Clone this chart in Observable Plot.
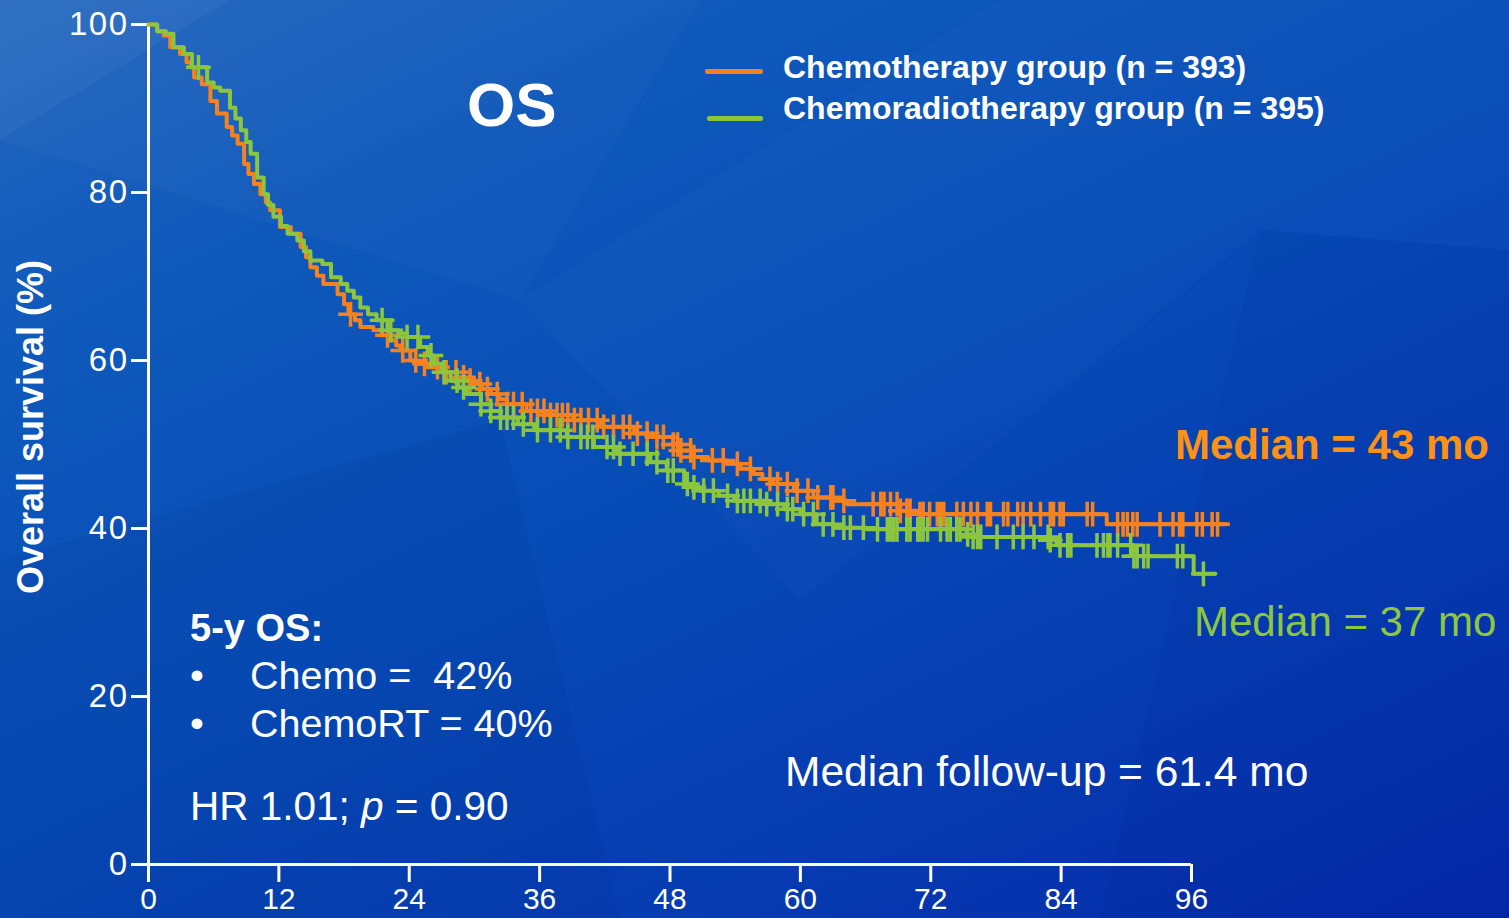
<!DOCTYPE html>
<html><head><meta charset="utf-8">
<script src="https://cdn.jsdelivr.net/npm/d3@7"></script>
<script src="https://cdn.jsdelivr.net/npm/@observablehq/plot@0.6"></script>
<style>
html,body{margin:0;padding:0;width:1509px;height:918px;overflow:hidden;background:#0749b6;}
#wrap{position:relative;width:1509px;height:918px;overflow:hidden;
 background: linear-gradient(155deg, #2467be 0%, #0f59bb 22%, #074cb7 48%, #063bb1 76%, #0528a9 100%);
 font-family: "Liberation Sans", Arial, Helvetica, sans-serif; color:#fff;}
.facet{position:absolute;left:0;top:0;width:1509px;height:918px;}
#chart{position:absolute;left:0;top:0;}
#chart svg{overflow:visible;}
#chart g[aria-label="y-axis tick label"] text{letter-spacing:1.5px;}
.t{position:absolute;white-space:pre;line-height:1;}
.b{font-weight:bold;}
.leg{position:absolute;height:5px;border-radius:2px;}
</style></head><body>
<div id="wrap">
 <div class="facet" style="background:rgba(255,255,255,0.06);clip-path:polygon(0 0, 230px 0, 0 140px);"></div>
 <div class="facet" style="background:rgba(255,255,255,0.025);clip-path:polygon(230px 0, 700px 0, 520px 300px, 0 140px);"></div>
 <div class="facet" style="background:rgba(0,0,60,0.04);clip-path:polygon(0 560px, 500px 420px, 620px 918px, 0 918px);"></div>
 <div class="facet" style="background:rgba(255,255,255,0.02);clip-path:polygon(1000px 0, 1509px 0, 1509px 250px, 1260px 230px);"></div>
 <div class="facet" style="background:rgba(0,0,80,0.04);clip-path:polygon(1260px 230px, 1509px 250px, 1509px 918px, 1100px 918px);"></div>
 <div class="facet" style="background:rgba(255,255,255,0.02);clip-path:polygon(520px 300px, 1000px 0, 1260px 230px, 800px 600px);"></div>
 <div id="chart"></div>

 <div class="t b" style="left:467px;top:74px;font-size:62px;">OS</div>
 <div class="leg" style="left:705px;top:69px;width:58px;background:#f5821f;"></div>
 <div class="leg" style="left:707px;top:116px;width:56px;background:#8cc63e;"></div>
 <div class="t b" style="left:783px;top:51px;font-size:32px;">Chemotherapy group (n = 393)</div>
 <div class="t b" style="left:783px;top:92px;font-size:32px;">Chemoradiotherapy group (n = 395)</div>

 <div class="t b" style="left:190px;top:609px;font-size:38px;">5-y OS:</div>
 <div class="t" style="left:190px;top:656px;font-size:39.5px;">•</div>
 <div class="t" style="left:250px;top:656px;font-size:39.5px;">Chemo =  42%</div>
 <div class="t" style="left:190px;top:704px;font-size:39.5px;">•</div>
 <div class="t" style="left:250px;top:704px;font-size:39.5px;">ChemoRT = 40%</div>
 <div class="t" style="left:190px;top:786px;font-size:40.5px;">HR 1.01; <i>p</i> = 0.90</div>

 <div class="t b" style="left:1175px;top:424px;font-size:42px;color:#fb9216;">Median = 43 mo</div>
 <div class="t" style="left:1194px;top:601px;font-size:42px;color:#8dc63f;">Median = 37 mo</div>
 <div class="t" style="left:785px;top:751px;font-size:42.5px;">Median follow-up = 61.4 mo</div>

 <div class="t b" style="left:31px;top:427px;font-size:36px;transform:translate(-50%,-50%) rotate(-90deg);transform-origin:center;">Overall survival (%)</div>
</div>
<script>
// Tick values
const xTicks = [0, 12, 24, 36, 48, 60, 72, 84, 96];
const yTicks = [0, 20, 40, 60, 80, 100];

// Chemotherapy group (n = 393): step times (months) and survival (%)
const chemoTime = [0, 0.8, 1.4, 2.0, 2.9, 3.5, 3.9, 4.2, 4.9, 5.7, 6.3, 7.2, 7.7, 8.2, 8.8, 9.2, 9.7, 10.3, 10.8, 11.2, 12.1, 13.1, 14.0, 14.5, 14.9, 15.5, 16.1, 17.4, 18.0, 18.4, 19.0, 19.5, 20.7, 21.5, 22.3, 22.8, 23.2, 24.1, 24.8, 25.6, 26.9, 28.4, 29.2, 29.9, 30.7, 31.5, 32.3, 33.0, 34.8, 37.0, 39.1, 41.6, 44.7, 46.5, 48.3, 48.9, 50.2, 51.5, 53.2, 54.5, 55.7, 56.5, 57.5, 59.4, 61.2, 63.1, 64.3, 69.2, 70.7, 88.2, 99.2];
const chemoSurv = [100, 99.2, 98.7, 97.3, 96.5, 95.5, 94.9, 93.7, 92.9, 90.9, 89.4, 87.8, 86.8, 85.8, 83.4, 82.2, 81.0, 79.8, 78.8, 77.9, 75.9, 75.1, 73.5, 72.3, 71.1, 70.1, 69.1, 67.9, 66.7, 65.5, 64.8, 64.0, 63.6, 63.0, 62.4, 61.8, 61.2, 60.0, 59.6, 59.2, 58.6, 58.0, 57.6, 57.2, 56.6, 56.0, 55.4, 54.8, 54.0, 53.5, 52.9, 52.1, 51.3, 50.9, 50.0, 49.3, 48.5, 48.1, 47.7, 47.1, 46.5, 45.9, 45.3, 44.5, 43.7, 43.3, 42.9, 42.1, 41.7, 40.5, 40.5];
const chemoCensor = [18.6, 22.0, 23.4, 24.6, 25.4, 26.6, 27.4, 28.3, 29.0, 29.6, 30.5, 31.2, 32.1, 33.0, 33.6, 34.4, 35.2, 35.8, 36.4, 37.0, 37.6, 38.1, 38.6, 39.2, 39.8, 40.5, 41.3, 41.9, 42.8, 43.7, 44.3, 45.0, 45.9, 46.8, 47.4, 48.3, 48.7, 49.0, 49.9, 50.2, 51.9, 52.9, 54.2, 55.4, 57.2, 57.9, 58.8, 59.7, 60.7, 61.6, 62.8, 63.0, 64.0, 66.7, 67.4, 67.7, 68.3, 68.9, 69.2, 69.8, 70.1, 71.0, 71.3, 71.9, 72.6, 72.9, 73.2, 74.4, 75.0, 75.7, 76.3, 77.2, 77.5, 78.7, 79.1, 80.0, 80.5, 81.2, 82.1, 83.0, 83.3, 83.9, 84.2, 86.4, 86.9, 89.2, 89.7, 90.1, 90.6, 91.0, 93.1, 94.3, 94.9, 95.2, 96.5, 97.0, 97.9, 98.4];

// Chemoradiotherapy group (n = 395)
const crtTime = [0, 0.8, 1.6, 2.3, 3.25, 4.0, 5.4, 6.0, 6.6, 7.5, 8.0, 8.5, 9.0, 9.4, 10.0, 10.6, 11.0, 11.5, 12.2, 12.8, 13.7, 14.3, 14.9, 16.0, 16.8, 17.7, 18.3, 18.9, 19.5, 20.2, 21.0, 22.0, 23.0, 23.8, 25.0, 25.7, 26.3, 27.0, 27.8, 28.5, 29.3, 30.6, 31.5, 32.4, 34.0, 35.5, 38.5, 41.0, 43.1, 46.2, 47.7, 49.3, 50.2, 50.8, 52.5, 53.9, 56.9, 58.5, 60.0, 61.5, 63.1, 66.1, 75.3, 75.7, 83.0, 83.6, 90.7, 96.2, 98.2];
const crtSurv = [100, 99.2, 98.9, 97.3, 96.5, 94.9, 93.1, 92.5, 92.1, 90.1, 88.8, 87.4, 86.0, 84.6, 81.8, 79.8, 78.5, 77.1, 76.0, 75.1, 74.3, 73.0, 71.9, 71.5, 69.9, 69.1, 68.3, 67.5, 66.3, 65.5, 64.8, 63.6, 63.2, 62.8, 61.6, 60.6, 59.6, 58.6, 57.6, 56.8, 56.0, 54.8, 54.0, 53.2, 52.4, 51.7, 50.9, 49.7, 48.9, 47.9, 46.9, 45.3, 44.9, 44.5, 43.9, 43.3, 42.9, 42.3, 41.7, 40.5, 40.1, 39.9, 39.3, 39.0, 38.6, 38.0, 36.7, 34.6, 34.6];
const crtCensor = [4.6, 21.5, 22.3, 23.8, 24.8, 26.0, 27.2, 28.4, 29.0, 30.6, 31.5, 32.4, 33.0, 33.6, 34.5, 35.8, 37.0, 37.9, 38.6, 39.8, 40.4, 40.9, 42.2, 42.8, 43.4, 44.6, 45.9, 46.8, 47.8, 48.3, 49.6, 50.2, 51.1, 52.0, 53.3, 54.2, 54.8, 55.4, 56.3, 56.9, 57.9, 58.8, 59.3, 60.3, 61.2, 62.1, 63.0, 64.0, 64.6, 65.8, 67.1, 68.0, 68.3, 68.6, 68.9, 69.8, 70.1, 70.8, 71.0, 71.3, 71.7, 72.9, 73.5, 73.8, 74.4, 74.7, 75.4, 75.9, 76.3, 76.6, 78.1, 79.6, 80.5, 81.5, 82.8, 83.0, 83.9, 84.6, 84.9, 87.3, 87.9, 88.3, 88.5, 89.2, 90.4, 90.7, 91.0, 91.6, 92.0, 94.7, 95.2, 97.1];

const ORANGE = "#f5821f", GREEN = "#8cc63e";

function curve(times, surv) { return times.map((t, i) => ({t, s: surv[i]})); }
function survAt(times, surv, t) {
  let s = surv[0];
  for (let i = 0; i < times.length; i++) { if (times[i] <= t) s = surv[i]; else break; }
  return s;
}
function censor(cts, times, surv) { return cts.map(t => ({t, s: survAt(times, surv, t)})); }

const chemoLine = curve(chemoTime, chemoSurv);
const crtLine = curve(crtTime, crtSurv);
const chemoMarks = censor(chemoCensor, chemoTime, chemoSurv);
const crtMarks = censor(crtCensor, crtTime, crtSurv);

const chart = Plot.plot({
  width: 1509, height: 918,
  marginLeft: 148, marginRight: 318, marginTop: 24, marginBottom: 54,
  style: {background: "transparent", color: "white", fontFamily: "'Liberation Sans', Arial, sans-serif", overflow: "visible"},
  x: {domain: [0, 96]},
  y: {domain: [0, 100]},
  marks: [
    Plot.axisX({ticks: xTicks, tickSize: 18, tickPadding: 5, strokeWidth: 3, fontSize: 30, label: null, tickFormat: d => String(d)}),
    Plot.axisY({ticks: yTicks, tickSize: 17, tickPadding: 3, strokeWidth: 3, fontSize: 33, label: null, tickFormat: d => String(d)}),
    Plot.ruleX([0], {stroke: "white", strokeWidth: 3}),
    Plot.ruleY([0], {stroke: "white", strokeWidth: 3}),
    Plot.line(chemoLine, {x: "t", y: "s", curve: "step-after", stroke: ORANGE, strokeWidth: 4}),
    Plot.dot(chemoMarks, {x: "t", y: "s", symbol: "plus", r: 8, stroke: ORANGE, strokeWidth: 3.5}),
    Plot.line(crtLine, {x: "t", y: "s", curve: "step-after", stroke: GREEN, strokeWidth: 4}),
    Plot.dot(crtMarks, {x: "t", y: "s", symbol: "plus", r: 8, stroke: GREEN, strokeWidth: 3.5})
  ]
});
document.getElementById("chart").appendChild(chart);
</script>
</body></html>
